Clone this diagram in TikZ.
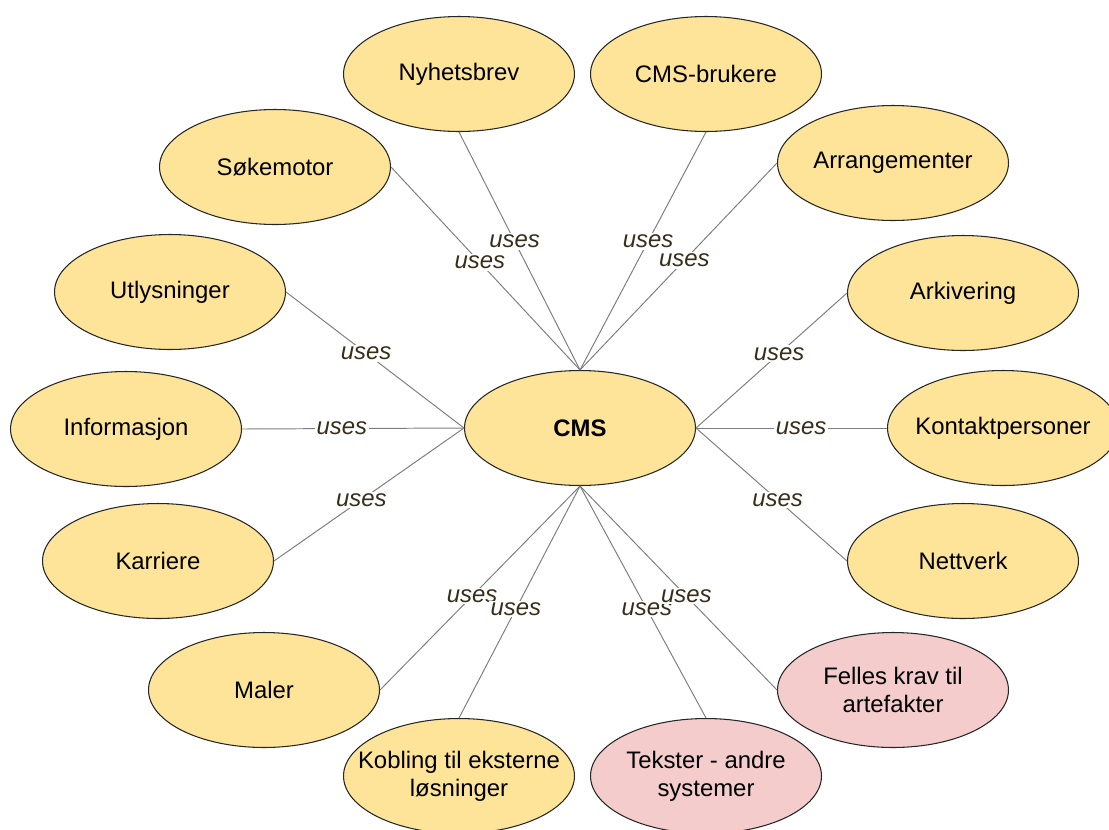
\documentclass[tikz,border=0pt]{standalone}
\usepackage{fontspec}
\setmainfont{Liberation Sans}
\usepackage{tikz}
\usetikzlibrary{shapes.geometric}

\definecolor{usecase}{RGB}{253,228,152}
\definecolor{extcase}{RGB}{244,204,204}
\definecolor{linkgray}{RGB}{125,125,125}
\definecolor{usestext}{RGB}{55,45,25}

\begin{document}
\begin{tikzpicture}[x=0.02cm, y=-0.02cm,
    box/.style={ellipse, draw=black!85, line width=0.6pt, fill=usecase,
        minimum width=4.62cm, minimum height=2.3cm, inner xsep=-0.45cm,
        inner ysep=0pt, align=center, font=\fontsize{13.6}{16}\selectfont},
    extbox/.style={box, fill=extcase},
    link/.style={draw=linkgray, line width=0.55pt},
    uses/.style={fill=white, inner sep=1pt, text=usestext,
        font=\fontsize{13.6}{16}\selectfont\itshape}]
    \useasboundingbox (0,0) rectangle (1109,829);

    \node[box] (cms) at (580,428) {\bfseries CMS};

    \node[box] (nyhet) at (459,74) {Nyhetsbrev};
    \node[box] (brukere) at (706,74) {CMS-brukere};
    \node[box] (soke) at (275,167) {Søkemotor};
    \node[box] (arr) at (893,163) {Arrangementer};
    \node[box] (utlys) at (170,292) {Utlysninger};
    \node[box] (arkiv) at (963,293) {Arkivering};
    \node[box] (info) at (126,429) {Informasjon};
    \node[box] (kontakt) at (1003,428) {Kontaktpersoner};
    \node[box] (karriere) at (158,561) {Karriere};
    \node[box] (nett) at (963,561) {Nettverk};
    \node[box] (maler) at (264,690) {Maler};
    \node[box] (kobling) at (459,776) {Kobling til eksterne\\løsninger};
    \node[extbox] (tekster) at (706,776) {Tekster - andre\\systemer};
    \node[extbox] (felles) at (893,690) {Felles krav til\\artefakter};

    \draw[link] (nyhet.south) -- node[uses, pos=0.46] {uses} (cms.north);
    \draw[link] (brukere.south) -- node[uses, pos=0.46] {uses} (cms.north);
    \draw[link] (soke.east) -- node[uses, pos=0.47] {uses} (cms.north);
    \draw[link] (arr.west) -- node[uses, pos=0.47] {uses} (cms.north);
    \draw[link] (utlys.east) -- node[uses, pos=0.45] {uses} (cms.west);
    \draw[link] (arkiv.west) -- node[uses, pos=0.45] {uses} (cms.east);
    \draw[link] (info.east) -- node[uses, pos=0.45] {uses} (cms.west);
    \draw[link] (kontakt.west) -- node[uses, pos=0.45] {uses} (cms.east);
    \draw[link] (karriere.east) -- node[uses, pos=0.46] {uses} (cms.west);
    \draw[link] (nett.west) -- node[uses, pos=0.46] {uses} (cms.east);
    \draw[link] (maler.east) -- node[uses, pos=0.46] {uses} (cms.south);
    \draw[link] (kobling.north) -- node[uses, pos=0.47] {uses} (cms.south);
    \draw[link] (tekster.north) -- node[uses, pos=0.47] {uses} (cms.south);
    \draw[link] (felles.west) -- node[uses, pos=0.46] {uses} (cms.south);
\end{tikzpicture}
\end{document}
